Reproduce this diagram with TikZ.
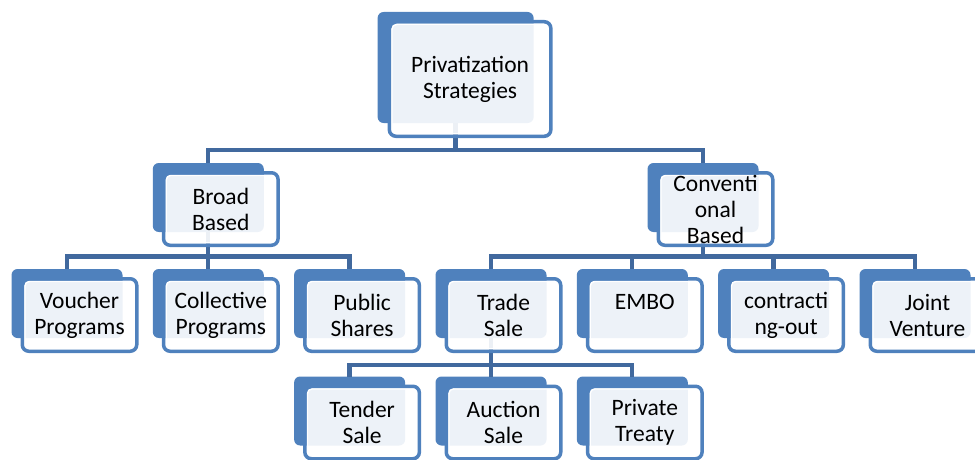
\documentclass[tikz,border=0pt]{standalone}
\usepackage{fontspec}
\setmainfont{Carlito}
\usetikzlibrary{positioning}
\definecolor{boxblue}{HTML}{4F81BD}
\definecolor{linkblue}{HTML}{41699E}
\tikzset{back/.style = {fill=boxblue, rounded corners=6pt, inner sep=0pt, outer sep=0pt,
                        minimum width=111pt, minimum height=69pt}}
\tikzset{front/.style = {fill=white, fill opacity=0.9, draw=white, line width=1.5pt,
                         rounded corners=5pt, inner sep=0pt, outer sep=0pt,
                         minimum width=109.5pt, minimum height=67.5pt}}
\tikzset{frame/.style = {draw=boxblue, line width=3.5pt, rounded corners=6.5pt}}
\tikzset{txt/.style = {align=center, inner sep=0pt, font=\fontsize{23.5}{26}\selectfont}}
\tikzset{link/.style = {draw=linkblue, line width=4.3pt}}

\begin{document}
\begin{tikzpicture}[x=1pt, y=-1pt]
    \useasboundingbox (0,0) rectangle (975,460);
    \clip (0,0) rectangle (975,460);

    % dark boxes
    \node [back, minimum width=156pt, minimum height=111pt] (top) at (455.6, 67.5) {};
    \foreach \n/\x/\y in {broad/208.3/197.5, conv/703/197.5,
                          voucher/67/303.5, collective/208.3/303.5, public/349.6/303.5,
                          trade/491/303.5, embo/632.3/303.5, contract/773.6/303.5, joint/915/303.5,
                          tender/349.6/411, auction/491/411, private/632.3/411} {
      \node [back] (\n) at (\x, \y) {};
    }

    % connectors
    \coordinate (bar1) at (0, 150);
    \coordinate (bar2) at (0, 256.5);
    \coordinate (bar3) at (0, 365);
    \foreach \c in {broad, conv} {
      \draw [link] (top.south) -- (top |- bar1) -| (\c.north);
    }
    \foreach \c in {voucher, collective, public} {
      \draw [link] (broad.south) -- (broad |- bar2) -| (\c.north);
    }
    \foreach \c in {trade, embo, contract, joint} {
      \draw [link] (conv.south) -- (conv |- bar2) -| (\c.north);
    }
    \foreach \c in {tender, auction, private} {
      \draw [link] (trade.south) -- (trade |- bar3) -| (\c.north);
    }

    % light boxes
    \node [front, minimum width=156.5pt, minimum height=109.5pt] (top-f) at ([shift={(14.5, 11.5)}]top) {};
    \draw [frame] ([shift={(-2.5pt, 2.5pt)}]top-f.north west) rectangle ([shift={(2.5pt, -2.5pt)}]top-f.south east);
    \node [txt] (top-t) at (top-f) {Privatization\\Strategies};

    \foreach \n/\t in {broad/{Broad\\Based}, conv/{Conventi\\onal\\Based},
                       voucher/{Voucher\\Programs}, collective/{Collective\\Programs},
                       public/{Public\\Shares}, trade/{Trade\\Sale}, embo/{EMBO\\\mbox{}},
                       contract/{contracti\\ng-out}, joint/{Joint\\Venture},
                       tender/{Tender\\Sale}, auction/{Auction\\Sale}, private/{Private\\Treaty}} {
      \node [front] (\n-f) at ([shift={(12.5, 11.5)}]\n) {};
      \draw [frame] ([shift={(-2.5pt, 2.5pt)}]\n-f.north west) rectangle ([shift={(2.5pt, -2.5pt)}]\n-f.south east);
      \node [txt] (\n-t) at (\n-f) {\t};
    }
\end{tikzpicture}
\end{document}
